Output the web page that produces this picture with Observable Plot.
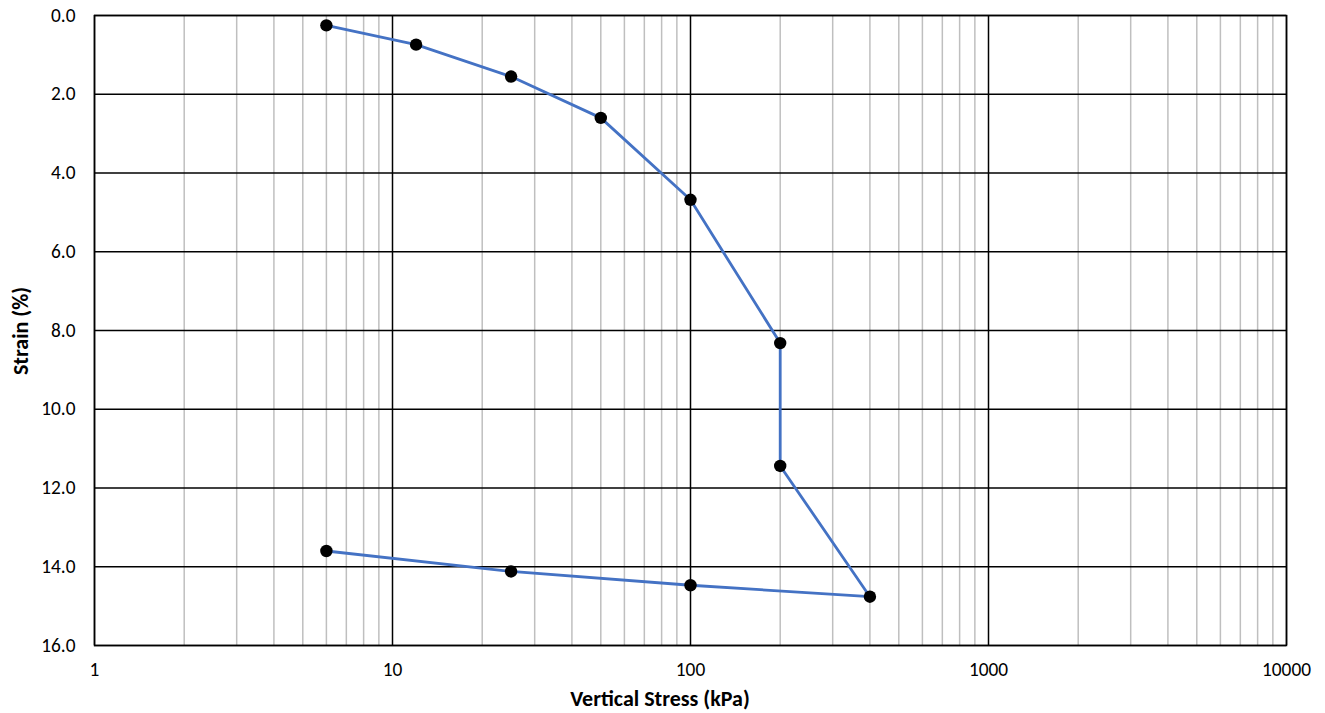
<!DOCTYPE html>
<html>
<head>
<meta charset="utf-8">
<script src="https://cdn.jsdelivr.net/npm/d3@7"></script>
<script src="https://cdn.jsdelivr.net/npm/@observablehq/plot@0.6"></script>
<style>
  html, body { margin: 0; padding: 0; background: #fff; }
  #chart { width: 1325px; height: 713px; }
</style>
</head>
<body>
<div id="chart"></div>
<script>
const stress = [6, 12, 25, 50, 100, 200, 200, 400, 100, 25, 6];
const strain = [0.25, 0.74, 1.55, 2.6, 4.68, 8.32, 11.44, 14.76, 14.47, 14.12, 13.6];
const xMajorTicks = [1, 10, 100, 1000, 10000];
const xMinorTicks = [2,3,4,5,6,7,8,9, 20,30,40,50,60,70,80,90, 200,300,400,500,600,700,800,900, 2000,3000,4000,5000,6000,7000,8000,9000];
const yTicks = [0, 2, 4, 6, 8, 10, 12, 14, 16];
const xTitle = "Vertical Stress (kPa)";
const yTitle = "Strain (%)";

const data = stress.map((s, i) => ({stress: s, strain: strain[i]}));
const font = "Carlito, Lato, 'Open Sans', 'Liberation Sans', sans-serif";

// measure text widths to size fonts like the reference
function measure(txt, weight) {
  const s = d3.select("body").append("svg").attr("width", 10).attr("height", 10);
  const t = s.append("text").style("font-family", font).style("font-size", "100px")
    .style("font-weight", weight).text(txt);
  const w = t.node().getComputedTextLength();
  s.remove();
  return w;
}
const tickFs = Math.min(20, 49 * 100 / measure("10000", "normal"));
const titleFs = Math.min(22, 185 * 100 / measure(xTitle, "bold"));

const W = 1325, H = 713, mL = 94, mR = 39, mT = 15, mB = 68;

const chart = Plot.plot({
  width: W,
  height: H,
  marginLeft: mL,
  marginRight: mR,
  marginTop: mT,
  marginBottom: mB,
  style: {fontFamily: font, fontSize: tickFs + "px", color: "#000", background: "#fff"},
  x: {type: "log", domain: [1, 10000], axis: null},
  y: {domain: [0, 16], reverse: true, axis: null},
  marks: [
    Plot.ruleX(xMinorTicks, {stroke: "#bfbfbf", strokeWidth: 1.5}),
    Plot.ruleX(xMajorTicks, {stroke: "#000", strokeWidth: 1.5}),
    Plot.ruleY(yTicks, {stroke: "#000", strokeWidth: 1.5}),
    Plot.frame({stroke: "#000", strokeWidth: 1.5}),
    Plot.axisX({ticks: xMajorTicks, tickFormat: d => String(d), tickSize: 0, tickPadding: 17, fontSize: tickFs, label: null}),
    Plot.axisY({ticks: yTicks, tickFormat: d => d.toFixed(1), tickSize: 0, tickPadding: 19, fontSize: tickFs, label: null}),
    Plot.line(data, {x: "stress", y: "strain", stroke: "#4472C4", strokeWidth: 2.8}),
    Plot.dot(data, {x: "stress", y: "strain", r: 6.2, fill: "#000", stroke: "none"})
  ]
});
const svg = d3.select(chart);
svg.selectAll("[aria-label='x-axis tick label'] text, [aria-label='y-axis tick label'] text")
  .style("font-size", tickFs + "px");
svg.append("text")
  .attr("x", 660).attr("y", 706)
  .attr("text-anchor", "middle")
  .style("font-family", font).style("font-size", titleFs + "px").style("font-weight", "bold")
  .text(xTitle);
svg.append("text")
  .attr("transform", `translate(28,331) rotate(-90)`)
  .attr("text-anchor", "middle")
  .style("font-family", font).style("font-size", titleFs + "px").style("font-weight", "bold")
  .text(yTitle);
document.getElementById("chart").appendChild(chart);
</script>
</body>
</html>
